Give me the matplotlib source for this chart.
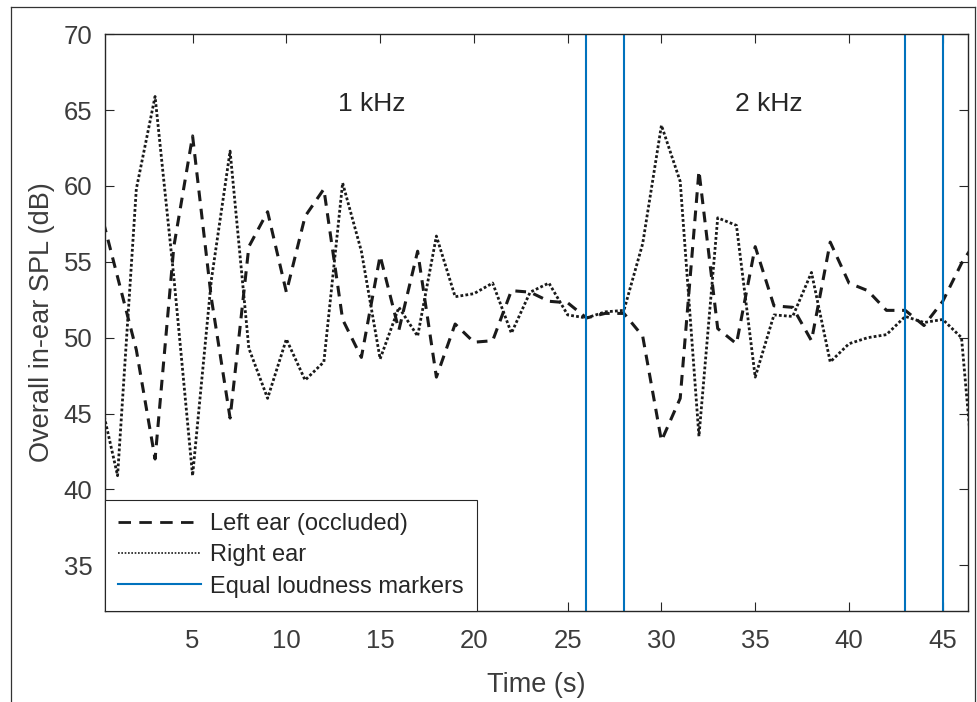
import matplotlib

matplotlib.use("Agg")
import matplotlib.pyplot as plt
from matplotlib.lines import Line2D

# time axis (s), one sample per second
time_s = list(range(0, 48))

left_ear = [
    58.8, 54.0, 49.2, 42.0, 56.0, 63.3, 52.6, 44.7, 56.0, 58.3,
    53.0, 58.0, 59.8, 51.2, 48.7, 55.4, 50.5, 55.7, 47.4, 50.9,
    49.7, 49.8, 53.1, 53.0, 52.4, 52.3, 51.3, 51.6, 51.6, 50.1,
    43.2, 46.0, 61.0, 50.6, 49.6, 56.0, 52.1, 52.0, 49.8, 56.3,
    53.6, 53.1, 51.8, 51.8, 50.8, 52.4, 54.9, 56.8,
]
right_ear = [
    46.4, 40.9, 59.8, 65.9, 54.0, 40.9, 53.8, 62.3, 49.3, 46.0,
    49.9, 47.2, 48.4, 60.2, 55.7, 48.6, 52.0, 50.1, 56.7, 52.7,
    52.9, 53.6, 50.3, 53.0, 53.6, 51.5, 51.3, 51.7, 51.8, 56.2,
    64.0, 60.3, 43.5, 57.9, 57.4, 47.4, 51.5, 51.4, 54.3, 48.4,
    49.6, 50.0, 50.2, 51.4, 51.0, 51.2, 50.0, 36.0,
]
marker_times = [26, 28, 43, 45]
band_labels = ["1 kHz", "2 kHz"]
band_label_x = [14.56, 35.7]
band_label_y = 65.4

xticks = [5, 10, 15, 20, 25, 30, 35, 40, 45]
yticks = [35, 40, 45, 50, 55, 60, 65, 70]

TXT = "#262626"
TICKTXT = "#3c3c3c"
BLUE = "#0072BD"

plt.rcParams["font.family"] = ["Liberation Sans", "DejaVu Sans"]

fig = plt.figure(figsize=(9.78, 7.02), dpi=100)
ax = fig.add_axes([105 / 978, 1 - 610.7 / 702, (967.7 - 105) / 978, (610.7 - 34.3) / 702])

ax.plot(time_s, left_ear, color="#1a1a1a", lw=2.2, linestyle=(0, (3.5, 2.5)), solid_capstyle="butt")
ax.plot(time_s, right_ear, color="#1a1a1a", lw=2.0, linestyle=(0, (1, 0.8)))
for t in marker_times:
    ax.axvline(t, color=BLUE, lw=1.5)

for lab, x in zip(band_labels, band_label_x):
    ax.text(x, band_label_y, lab, ha="center", va="center", fontsize=19, color=TXT)

ax.set_xlim(0.33, 46.33)
ax.set_ylim(32, 70)
ax.set_xticks(xticks)
ax.set_yticks(yticks)
ax.tick_params(direction="in", length=6.5, width=0.8, colors=TXT, labelsize=18.5,
               labelcolor=TICKTXT, top=True, right=True)
ax.tick_params(axis="x", pad=13)
ax.tick_params(axis="y", pad=9)
for sp in ax.spines.values():
    sp.set_color(TXT)
    sp.set_linewidth(1.0)

ax.set_xlabel("Time (s)", fontsize=19.5, color=TICKTXT, labelpad=14)
ax.set_ylabel("Overall in-ear SPL (dB)", fontsize=19.5, color=TICKTXT, labelpad=6)

handles = [
    Line2D([], [], color="#1a1a1a", lw=2.0, linestyle=(0, (4.5, 3))),
    Line2D([], [], color="#1a1a1a", lw=1.2, linestyle=(0, (1, 1))),
    Line2D([], [], color=BLUE, lw=1.5),
]
leg = ax.legend(handles, ["Left ear (occluded)", "Right ear", "Equal loudness markers"],
                loc="lower left", bbox_to_anchor=(0, 0), borderaxespad=0, fontsize=17,
                handlelength=3.5, handletextpad=0.4, labelspacing=0.4,
                fancybox=False, framealpha=1, borderpad=0.55)
leg.get_frame().set_edgecolor(TXT)
leg.get_frame().set_linewidth(0.8)
for t in leg.get_texts():
    t.set_color(TXT)

# outer frame lines of the exported figure
fx0, fx1, fy1 = 10.7 / 978, 975 / 978, 1 - 6.7 / 702
fig.add_artist(Line2D([fx0, fx0], [0, fy1], color="#333333", lw=0.9, transform=fig.transFigure))
fig.add_artist(Line2D([fx0, fx1], [fy1, fy1], color="#333333", lw=0.9, transform=fig.transFigure))
fig.add_artist(Line2D([fx1, fx1], [0, fy1], color="#333333", lw=0.9, transform=fig.transFigure))

fig.savefig("out.png", dpi=100)
